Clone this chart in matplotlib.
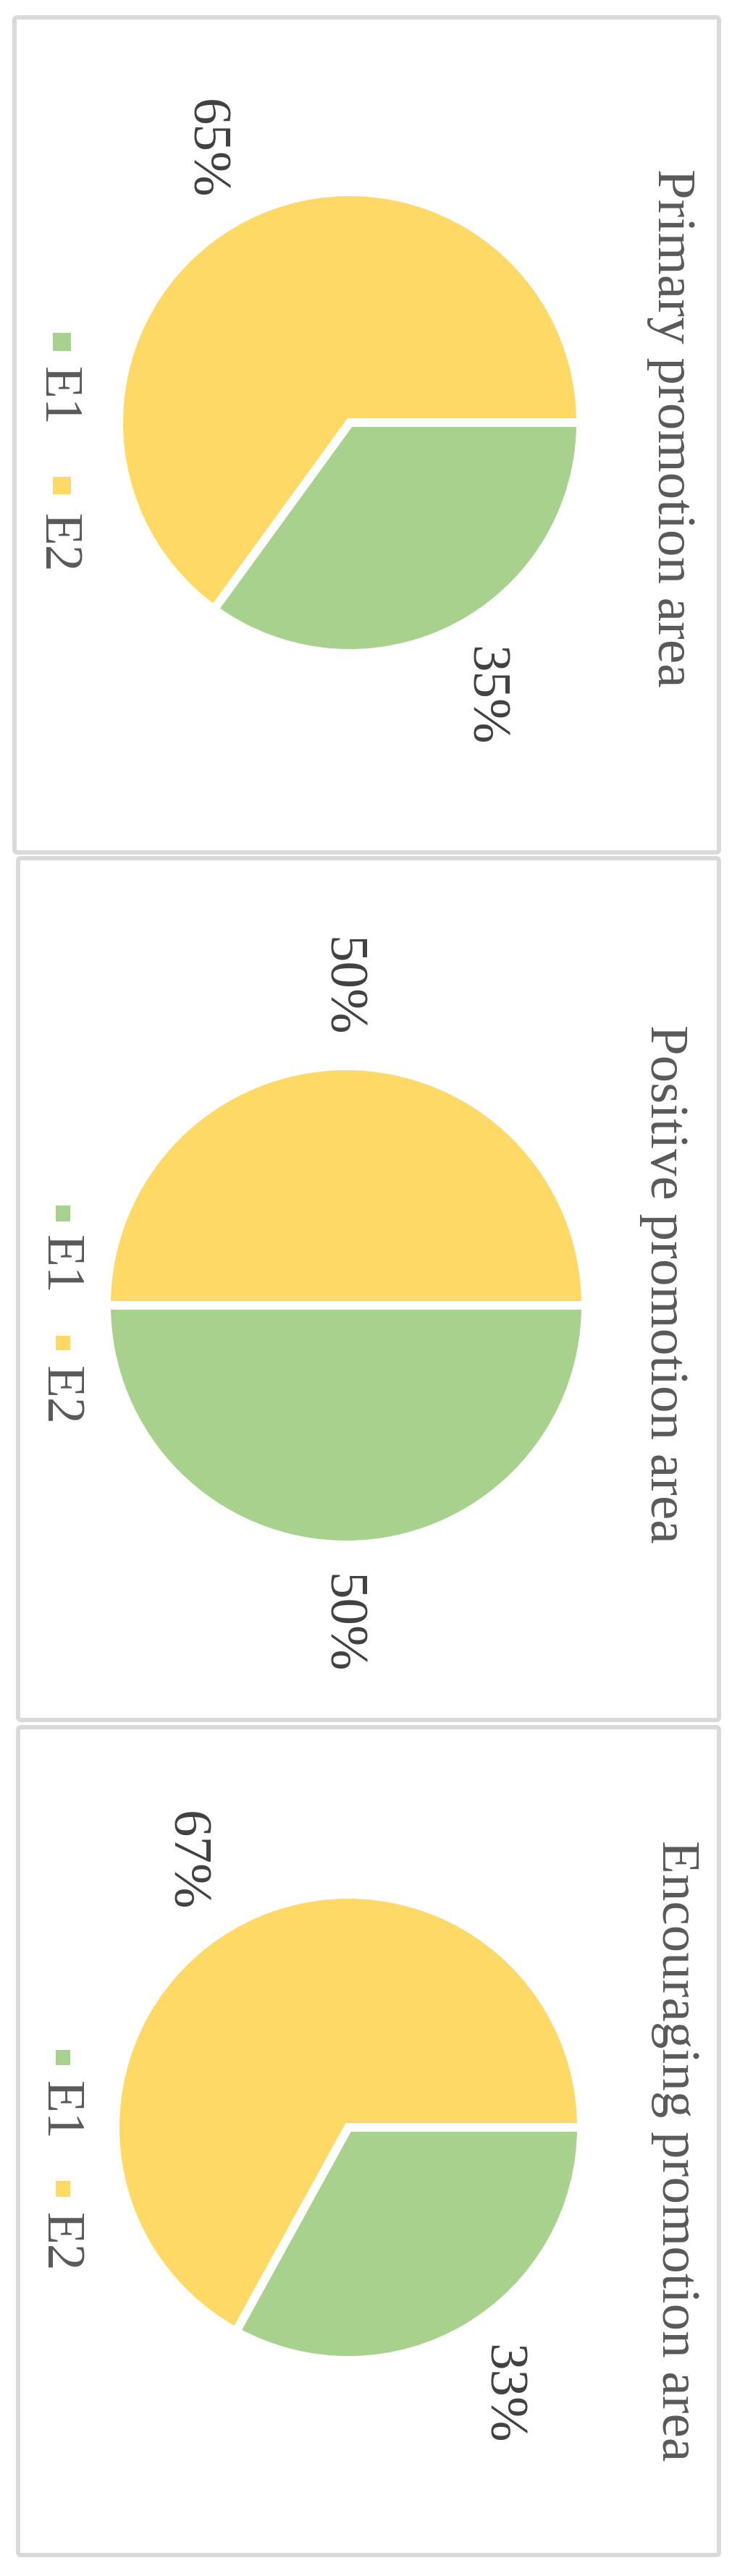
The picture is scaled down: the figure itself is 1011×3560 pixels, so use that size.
import matplotlib.pyplot as plt
from matplotlib.patches import FancyBboxPatch, Rectangle

# data
TITLES = ["Primary promotion area", "Positive promotion area", "Encouraging promotion area"]
SERIES = ["E1", "E2"]
E1_SHARE = [35, 50, 33]
E2_SHARE = [65, 50, 67]
COLORS = ["#A9D18E", "#FFD966"]

W, H = 1012, 3560
FONT = "Liberation Serif"
TEXT_GRAY = "#595959"
LABEL_GRAY = "#404040"
EDGE_PX = 12

# layout per panel, in pixels (x right, y down); the chart is drawn turned 90 degrees
PANELS = [
    dict(box=(20, 24, 993, 1178), pie=(483, 584, 313), title=(909, 591),
         sq_x=(73, 98), sq_y=[(460, 485), (659, 683)], txt_x=61, txt_y=[507, 710]),
    dict(box=(25, 1186, 993, 2377), pie=(478, 1804, 325), title=(899, 1774),
         sq_x=(77, 97), sq_y=[(1666, 1688), (1846, 1866)], txt_x=64, txt_y=[1707, 1888]),
    dict(box=(25, 2387, 993, 3531), pie=(481, 2940, 316), title=(915, 2972),
         sq_x=(77, 97), sq_y=[(2833, 2854), (3014, 3036)], txt_x=64, txt_y=[2876, 3058]),
]

fig = plt.figure(figsize=(W / 100, H / 100), dpi=100)
bg = fig.add_axes([0, 0, 1, 1])
bg.set_xlim(0, W)
bg.set_ylim(H, 0)
bg.axis("off")

for i, p in enumerate(PANELS):
    x0, y0, x1, y1 = p["box"]
    bg.add_patch(FancyBboxPatch((x0, y0), x1 - x0, y1 - y0,
                                boxstyle="round,pad=0,rounding_size=4",
                                facecolor="white", edgecolor="#D9D9D9", linewidth=4.3))

    tx, ty = p["title"]
    bg.text(tx, ty, TITLES[i], rotation=-90, rotation_mode="anchor",
            ha="center", va="baseline", fontsize=54, color=TEXT_GRAY, family=FONT)

    for k, name in enumerate(SERIES):
        sy0, sy1 = p["sq_y"][k]
        sx0, sx1 = p["sq_x"]
        bg.add_patch(Rectangle((sx0, sy0), sx1 - sx0, sy1 - sy0,
                               facecolor=COLORS[k], edgecolor="none"))
        bg.text(p["txt_x"], p["txt_y"][k], name, rotation=-90, rotation_mode="anchor",
                ha="left", va="baseline", fontsize=53, color=TEXT_GRAY, family=FONT)

    cx, cy, r = p["pie"]
    R = r + EDGE_PX / 2
    ax = fig.add_axes([(cx - R) / W, 1 - (cy + R) / H, 2 * R / W, 2 * R / H])
    _, _, pct = ax.pie([E1_SHARE[i], E2_SHARE[i]], colors=COLORS, startangle=0,
                       counterclock=False, radius=1, autopct="%.0f%%", pctdistance=1.33,
                       wedgeprops=dict(edgecolor="white", linewidth=EDGE_PX * 0.72),
                       textprops=dict(rotation=-90, fontsize=54, color=LABEL_GRAY, family=FONT))
    for t in pct:
        t.set_rotation_mode("anchor")
        t.set_ha("center")
        t.set_va("center_baseline")
    ax.set_xlim(-1, 1)
    ax.set_ylim(-1, 1)
    ax.axis("off")

fig.savefig("out.png", dpi=100)
